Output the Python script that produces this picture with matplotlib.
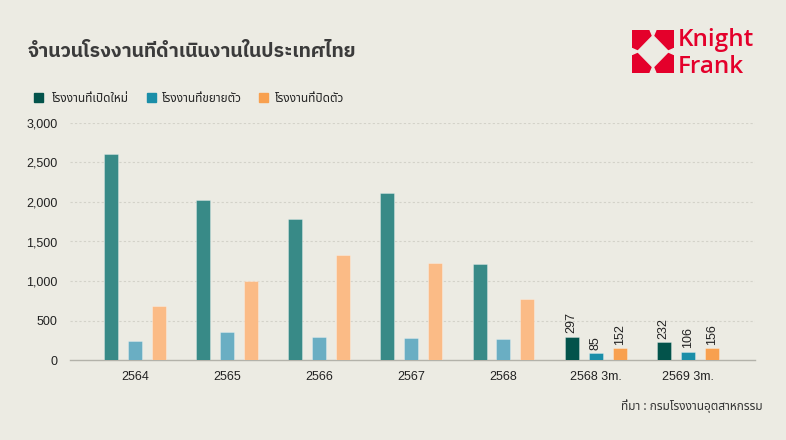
import matplotlib
matplotlib.use("Agg")
import matplotlib.pyplot as plt
from matplotlib.patches import Rectangle, Polygon
import numpy as np

THAI = ['Noto Sans Thai', 'DejaVu Sans']
THAI_BOLD = ['IBM Plex Sans Thai', 'Noto Sans Thai', 'DejaVu Sans']
plt.rcParams['font.family'] = ['Liberation Sans', 'Noto Sans Thai', 'DejaVu Sans']

# data (number of factories)
years = ["2564", "2565", "2566", "2567", "2568", "2568 3m.", "2569 3m."]
opened = [2610, 2020, 1790, 2110, 1212, 297, 232]
expanded = [240, 360, 290, 278, 265, 85, 106]
closed = [684, 995, 1330, 1225, 774, 152, 156]
series_names = ["โรงงานที่เปิดใหม่", "โรงงานที่ขยายตัว", "โรงงานที่ปิดตัว"]
yticks = [0, 500, 1000, 1500, 2000, 2500, 3000]

bg = "#ecebe3"
full_cols = ["#388a87", "#6aaec3", "#fbbb86"]
qtr_cols = ["#03534b", "#1a8ea8", "#f8a04f"]
red = "#e4002b"

fig = plt.figure(figsize=(7.86, 4.4), dpi=100, facecolor=bg)
ax = fig.add_axes([70 / 786, 80 / 440, 685 / 786, 237 / 440])
ax.set_facecolor(bg)

x = np.arange(len(years))
w = 0.152
step = 0.26
n_full = 5
for i, vals in enumerate([opened, expanded, closed]):
    cols = [full_cols[i]] * n_full + [qtr_cols[i]] * (len(years) - n_full)
    ax.bar(x + (i - 1) * step, vals, width=w, color=cols,
           edgecolor=(1, 1, 1, 0.35), linewidth=0.6, zorder=3)
    # value labels on the quarterly bars
    for j in range(n_full, len(years)):
        ax.text(x[j] + (i - 1) * step, vals[j] + 40, str(vals[j]),
                rotation=90, ha="center", va="bottom", fontsize=9, color="#222222")

ax.set_xlim(-0.705, 6.73)
ax.set_ylim(0, 3000)
ax.set_yticks(yticks)
ax.set_yticklabels([f"{v:,}" for v in yticks])
ax.set_xticks(x)
ax.set_xticklabels(years)
ax.tick_params(axis="both", length=0, labelsize=9, colors="#222222")
ax.tick_params(axis="y", pad=9)
ax.tick_params(axis="x", pad=8)
for v in yticks[1:]:
    ax.axhline(v, color="#d3d2c9", lw=0.8, ls=(0, (2, 2)), zorder=1)
for s in ["top", "right", "left"]:
    ax.spines[s].set_visible(False)
ax.spines["bottom"].set_color("#b3b2aa")
ax.spines["bottom"].set_linewidth(1.0)

# title
fig.text(28 / 786, 1 - 52 / 440, "จำนวนโรงงานที่ดำเนินงานในประเทศไทย",
         fontsize=14, fontweight="bold", color="#3b3b3b", family=THAI_BOLD, va="center")

# legend
leg_sq = [34, 147, 259]
leg_tx = [52, 162, 275]
for sx, tx, name, c in zip(leg_sq, leg_tx, series_names, qtr_cols):
    fig.patches.append(Rectangle((sx / 786, 1 - 102 / 440), 8.5 / 786, 8.5 / 440,
                                 transform=fig.transFigure, color=c, figure=fig))
    fig.text(tx / 786, 1 - 98 / 440, name, fontsize=8.5, color="#222222",
             family=THAI, va="center")

# source
fig.text(763 / 786, 1 - 406 / 440, "ที่มา : กรมโรงงานอุตสาหกรรม", fontsize=8.5,
         color="#333333", family=THAI, ha="right", va="center")

# logo
lax = fig.add_axes([632 / 786, 1 - 73 / 440, 42 / 786, 43 / 440])
lax.set_xlim(0, 1)
lax.set_ylim(0, 1)
lax.axis("off")
lax.add_patch(Rectangle((0, 0), 1, 1, color=red))
d = 0.37
lax.add_patch(Polygon([(0.5, 0.5 + d), (0.5 + d, 0.5), (0.5, 0.5 - d), (0.5 - d, 0.5)], color=bg))
nd, nw = 0.16, 0.07
lax.add_patch(Polygon([(0.5 - nw, 1), (0.5 + nw, 1), (0.5, 1 - nd)], color=bg))
lax.add_patch(Polygon([(0.5 - nw, 0), (0.5 + nw, 0), (0.5, nd)], color=bg))
lax.add_patch(Polygon([(0, 0.5 - nw), (0, 0.5 + nw), (nd, 0.5)], color=bg))
lax.add_patch(Polygon([(1, 0.5 - nw), (1, 0.5 + nw), (1 - nd, 0.5)], color=bg))
fig.text(678 / 786, 1 - 46 / 440, "Knight", fontsize=17.5, fontweight="semibold",
         color=red, family="Open Sans", va="baseline")
fig.text(678 / 786, 1 - 73 / 440, "Frank", fontsize=17.5, fontweight="semibold",
         color=red, family="Open Sans", va="baseline")

fig.savefig("out.png", facecolor=bg)
